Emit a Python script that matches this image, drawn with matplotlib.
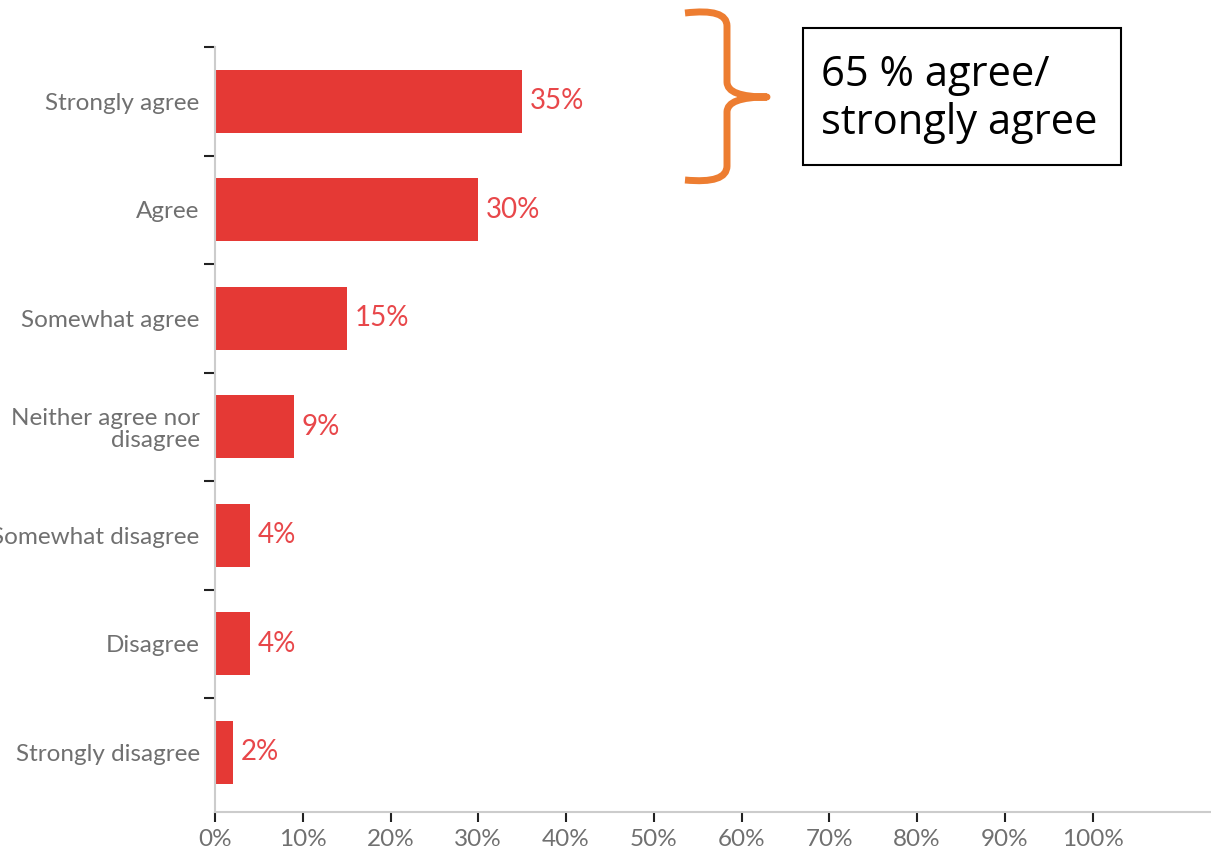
import matplotlib.pyplot as plt
from matplotlib.path import Path
from matplotlib.patches import PathPatch, Rectangle

# Survey responses, top to bottom
categories = ["Strongly agree", "Agree", "Somewhat agree",
              "Neither agree nor\ndisagree", "Somewhat disagree",
              "Disagree", "Strongly disagree"]
percent = [35, 30, 15, 9, 4, 4, 2]
x_ticks = [0, 10, 20, 30, 40, 50, 60, 70, 80, 90, 100]
note = "65 % agree/\nstrongly agree"

W, H = 1211, 851
fig = plt.figure(figsize=(W / 100, H / 100), dpi=100)
ax = fig.add_axes([215 / W, (H - 812) / H, 1 - 215 / W, (812 - 47) / H])

bar_red = "#e53935"
label_red = "#e8474a"
grey_text = "#707070"

y = list(range(len(categories)))
ax.barh(y, percent, height=0.58, color=bar_red)
for yi, v in zip(y, percent):
    ax.text(v + 0.9, yi, f"{v}%", va="center", ha="left",
            color=label_red, fontsize=20, family="Lato")

ax.set_ylim(len(categories) - 0.45, -0.5)
ax.set_xlim(0, 113.5)

ax.set_yticks(y)
ax.set_yticklabels(categories, family="Lato", fontsize=17.5, color=grey_text,
                   linespacing=1.1)
ax.tick_params(axis="y", length=0, pad=11)
# boundary ticks between categories
ax.set_yticks([i - 0.5 for i in range(len(categories))], minor=True)
ax.tick_params(axis="y", which="minor", length=8, width=1.5, color="#222222")

ax.set_xticks(x_ticks)
ax.set_xticklabels([f"{t}%" for t in x_ticks], family="Lato", fontsize=17.5,
                   color=grey_text)
ax.tick_params(axis="x", length=7, width=1.5, color="#222222", pad=5)

for side in ["top", "right"]:
    ax.spines[side].set_visible(False)
for side in ["left", "bottom"]:
    ax.spines[side].set_color("#cccccc")
    ax.spines[side].set_linewidth(1.5)

# orange brace next to the top bar (figure pixel coordinates, y from top)
def px(x, yy):
    return (x / W, 1 - yy / H)

verts = [px(685, 13),
         px(727, 8), px(727, 26),
         px(727, 82),
         px(727, 97), px(767, 97),
         px(727, 97), px(727, 112),
         px(727, 166),
         px(727, 184), px(685, 180)]
codes = [Path.MOVETO,
         Path.CURVE3, Path.CURVE3,
         Path.LINETO,
         Path.CURVE3, Path.CURVE3,
         Path.CURVE3, Path.CURVE3,
         Path.LINETO,
         Path.CURVE3, Path.CURVE3]
brace = PathPatch(Path(verts, codes), transform=fig.transFigure,
                  fill=False, edgecolor="#ed7d31", linewidth=5,
                  capstyle="butt", joinstyle="round")
fig.add_artist(brace)

# text box
x0, y0 = px(803, 165)
fig.add_artist(Rectangle((x0, y0), (1121 - 803) / W, (165 - 28) / H,
                         transform=fig.transFigure, fill=False,
                         edgecolor="black", linewidth=1.5))
fig.text(821 / W, 1 - 99 / H, note, transform=fig.transFigure,
         ha="left", va="center", fontsize=30, family="Open Sans",
         linespacing=1.2, color="black")

fig.savefig("out.png", dpi=100)
